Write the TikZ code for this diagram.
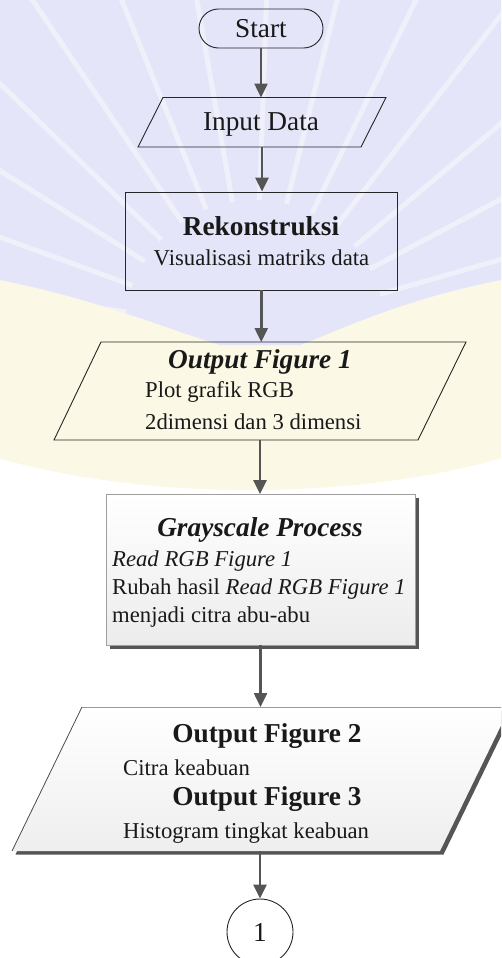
\documentclass[tikz,border=0pt]{standalone}
\usepackage{fontspec}
\setmainfont{Liberation Serif}
\usetikzlibrary{arrows.meta,calc,shapes.geometric}
\definecolor{lav}{RGB}{228,229,249}
\definecolor{cream}{RGB}{252,248,230}
\definecolor{arr}{RGB}{85,85,85}
\definecolor{shad}{RGB}{85,85,85}
\tikzset{
  flow/.style={draw=arr, line width=2.5pt, -{Triangle[width=13pt,length=14pt]}},
  outline/.style={draw=black!85, line width=0.9pt},
  anchorbox/.style={draw=none, rectangle, inner sep=0pt, outer sep=0pt},
  headtxt/.style={font=\fontsize{27.3}{30}\selectfont\bfseries, inner sep=0pt, text=black!90},
  headit/.style={font=\fontsize{27.3}{30}\selectfont\bfseries\itshape, inner sep=0pt, text=black!90},
  bodytxt/.style={font=\fontsize{22.7}{26}\selectfont, inner sep=0pt, text=black!90},
  plaintxt/.style={font=\fontsize{27.3}{30}\selectfont, inner sep=0pt, text=black!90},
}
\begin{document}
\begin{tikzpicture}[x=1pt,y=-1pt]
\useasboundingbox (0,0) rectangle (501,958);
\clip (0,0) rectangle (501,958);
\fill[white] (0,0) rectangle (501,958);

% faint watermark
\fill[cream] (250,330) ellipse [x radius=420pt, y radius=160pt];
\fill[lav] (0,0) -- (501,0) -- (501,280) .. controls (400,300) and (340,330) .. (300,345)
  -- (220,345) .. controls (170,330) and (100,300) .. (0,280) -- cycle;
\begin{scope}
  \clip (0,0) -- (501,0) -- (501,280) .. controls (400,300) and (340,330) .. (300,345)
  -- (220,345) .. controls (170,330) and (100,300) .. (0,280) -- cycle;
  \foreach \a in {188,200,...,352}
    \draw[white, line width=5pt, opacity=0.45] ($(255,330)+(\a:130)$) -- ($(255,330)+(\a:480)$);
\end{scope}

% Start
\node[outline, rectangle, rounded corners=19.5pt, minimum width=124pt, minimum height=39pt,
      plaintxt] (start) at (261,28.5) {Start};

% Input Data
\draw[outline] (163,97.5) -- (386,97.5) -- (361,147) -- (138,147) -- cycle;
\node[anchorbox, minimum width=223pt, minimum height=49.5pt] (inp) at (262,122.25) {};
\node[plaintxt, anchor=base] (inptxt) at (261,130.7) {Input Data};

% Rekonstruksi
\node[outline, rectangle, inner sep=0pt, minimum width=272.5pt, minimum height=98pt] (rek) at (261.25,241) {};
\node[headtxt, anchor=base] (rekh) at (261,235) {Rekonstruksi};
\node[bodytxt, anchor=base] (rekd) at (261.5,265) {Visualisasi matriks data};

% Output Figure 1
\draw[outline] (101,342) -- (466,342) -- (418,440) -- (54,440) -- cycle;
\node[anchorbox, minimum width=365pt, minimum height=98pt] (out1) at (260,391) {};
\node[headit, anchor=base] (o1h) at (260,368) {Output Figure 1};
\node[bodytxt, anchor=base west] (o1a) at (145,397) {Plot grafik RGB};
\node[bodytxt, anchor=base west] (o1b) at (145,429) {2dimensi dan 3 dimensi};

% Grayscale Process
\fill[shad] (109.5,498) rectangle (418.5,648.5);
\node[rectangle, inner sep=0pt, minimum width=309pt, minimum height=150.5pt, draw=gray!75,
      line width=0.8pt, top color=white, bottom color=gray!15] (gp) at (260.5,569.75) {};
\node[headit, anchor=base] (gph) at (260,536) {Grayscale Process};
\node[bodytxt, anchor=base west] (gp1) at (112,566) {\itshape Read RGB Figure 1};
\node[bodytxt, anchor=base west] (gp2) at (112,594) {Rubah hasil \textit{Read RGB Figure 1}};
\node[bodytxt, anchor=base west] (gp3) at (112,622) {menjadi citra abu-abu};

% Output Figure 2 / 3
\fill[shad] (85.5,710.5) -- (513.5,710.5) -- (443.5,854.5) -- (15.5,854.5) -- cycle;
\shade[top color=white, bottom color=gray!13] (82,707) -- (510,707) -- (440,851) -- (12,851) -- cycle;
\draw[draw=gray!80, line width=0.8pt] (82,707) -- (510,707);
\draw[draw=black!70, line width=0.8pt] (12,851) -- (82,707);
\node[anchorbox, minimum width=428pt, minimum height=144pt] (out2) at (261,779) {};
\node[headtxt, anchor=base] (o2h) at (267,742) {Output Figure 2};
\node[bodytxt, anchor=base west] (o2a) at (123,775) {Citra keabuan};
\node[headtxt, anchor=base] (o3h) at (267,805) {Output Figure 3};
\node[bodytxt, anchor=base west] (o3a) at (123,838) {Histogram tingkat keabuan};

% Connector 1
\node[circle, outline, minimum size=66pt, inner sep=0pt, plaintxt] (conn) at (260,932) {1};

% arrows
\draw[flow] (start.south) -- (start.south |- inp.north);
\draw[flow] (inp.south) -- (inp.south |- rek.north);
\draw[flow] (rek.south) -- (rek.south |- out1.north);
\draw[flow] (out1.south) -- (out1.south |- gp.north);
\draw[flow] (gp.south) -- (gp.south |- out2.north);
\draw[flow] (conn.north |- out2.south) -- (conn.north);
\end{tikzpicture}
\end{document}
